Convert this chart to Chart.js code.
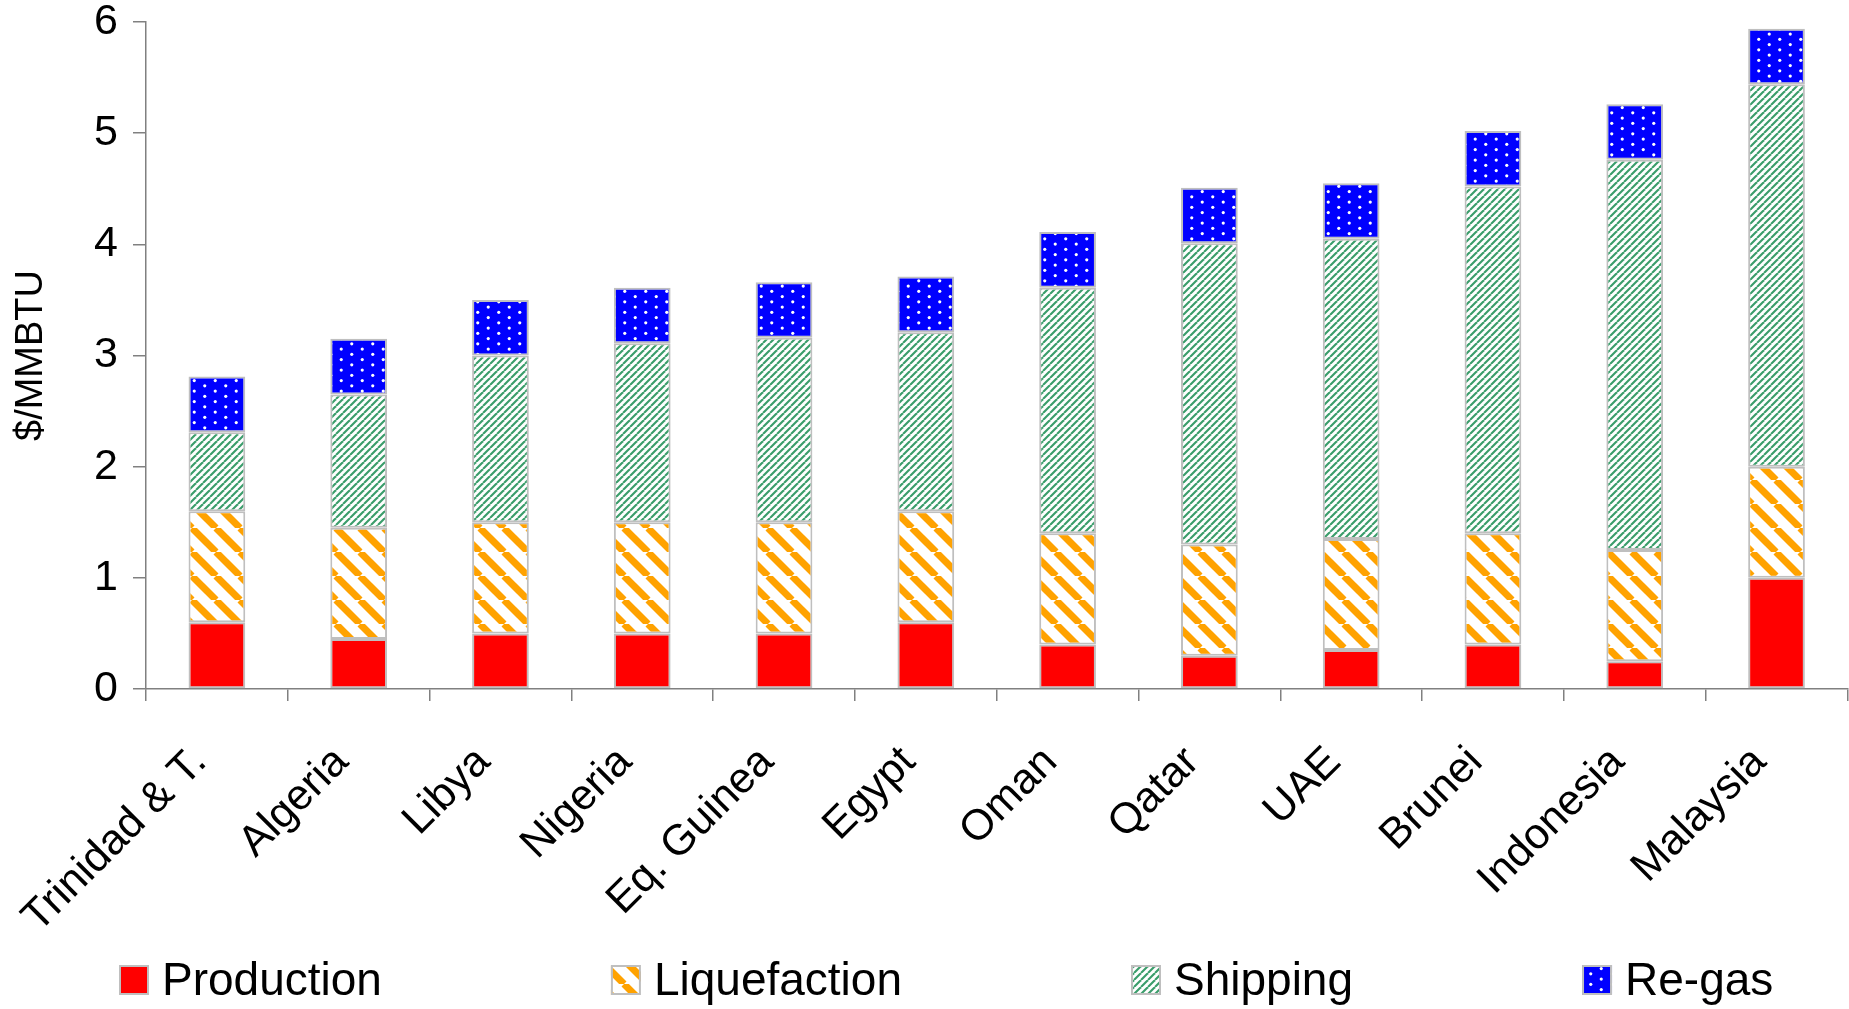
<!DOCTYPE html>
<html lang="en">
<head>
  <meta charset="UTF-8" />
  <title>LNG cost chain by country</title>
  <style>
    html, body { margin: 0; padding: 0; background: #fff; }
    #wrap { width: 1849px; height: 1009px; }
  </style>
</head>
<body>
<div id="wrap"><canvas id="lngChart" width="1849" height="1009"></canvas></div>

<script src="https://cdn.jsdelivr.net/npm/chart.js"></script>
<script>
  // Data ($/MMBTU)
  const countries = ['Trinidad & T.', 'Algeria', 'Libya', 'Nigeria', 'Eq. Guinea', 'Egypt',
                     'Oman', 'Qatar', 'UAE', 'Brunei', 'Indonesia', 'Malaysia'];
  const production   = [0.6, 0.45, 0.5, 0.5, 0.5, 0.6, 0.4, 0.3, 0.35, 0.4, 0.25, 1.0];
  const liquefaction = [1.0, 1.0, 1.0, 1.0, 1.0, 1.0, 1.0, 1.0, 1.0, 1.0, 1.0, 1.0];
  const shipping     = [0.71, 1.2, 1.5, 1.61, 1.66, 1.61, 2.21, 2.71, 2.7, 3.12, 3.51, 3.44];
  const regas        = [0.5, 0.5, 0.5, 0.5, 0.5, 0.5, 0.5, 0.5, 0.5, 0.5, 0.5, 0.5];
  const seriesNames  = ['Production', 'Liquefaction', 'Shipping', 'Re-gas'];
  const yMin = 0, yMax = 6, yStep = 1;
  const yTitle = '$/MMBTU';

  const FONT = '"Liberation Sans", Arial, sans-serif';
  const canvas = document.getElementById('lngChart');
  const ctx = canvas.getContext('2d');

  // Excel-style fill patterns
  function makePattern(w, h, draw) {
    const c = document.createElement('canvas');
    c.width = w; c.height = h;
    const g = c.getContext('2d');
    draw(g, w, h);
    return ctx.createPattern(c, 'repeat');
  }

  const redFill = '#FF0000';

  const orangeStripes = makePattern(24, 24, (g, w, h) => {
    g.fillStyle = '#fff';
    g.fillRect(0, 0, w, h);
    g.strokeStyle = '#FFA200';
    g.lineWidth = 7;
    for (const k of [-w, 0, w]) {
      g.beginPath();
      g.moveTo(k, 0);
      g.lineTo(k + w, h);
      g.stroke();
    }
  });

  const greenStripes = makePattern(7, 7, (g, w, h) => {
    g.fillStyle = '#fff';
    g.fillRect(0, 0, w, h);
    g.strokeStyle = '#3A9D6A';
    g.lineWidth = 2.1;
    for (const k of [-w, 0, w]) {
      g.beginPath();
      g.moveTo(k, h);
      g.lineTo(k + w, 0);
      g.stroke();
    }
  });

  const blueDots = makePattern(21, 21, (g, w, h) => {
    g.fillStyle = '#0000FF';
    g.fillRect(0, 0, w, h);
    g.fillStyle = '#fff';
    for (let i = 0; i < 4; i++) {
      const y = 2.6 + i * 5.25;
      const x = i % 2 === 0 ? 5.25 : 15.75;
      g.beginPath();
      g.arc(x, y, 1.6, 0, Math.PI * 2);
      g.fill();
    }
  });

  const fills = [redFill, orangeStripes, greenStripes, blueDots];
  const values = [production, liquefaction, shipping, regas];

  // legend drawn under the axis labels, Excel style
  const bottomLegend = {
    id: 'bottomLegend',
    afterDraw(chart) {
      const c = chart.ctx;
      const box = 30, gap = 13, itemGap = 229;
      const top = 965;
      let x = 119;
      c.save();
      c.font = '46px ' + FONT;
      c.textBaseline = 'middle';
      chart.data.datasets.forEach(ds => {
        c.fillStyle = ds.backgroundColor;
        c.fillRect(x, top, box, box);
        c.strokeStyle = '#BFBFBF';
        c.lineWidth = 2;
        c.strokeRect(x + 1, top + 1, box - 2, box - 2);
        c.fillStyle = '#000';
        c.fillText(ds.label, x + box + gap, top + box / 2 + 2);
        x += box + gap + c.measureText(ds.label).width + itemGap;
      });
      c.restore();
    }
  };

  new Chart(ctx, {
    type: 'bar',
    data: {
      labels: countries,
      datasets: seriesNames.map((name, i) => ({
        label: name,
        data: values[i],
        backgroundColor: fills[i],
        borderColor: '#BFBFBF',
        borderWidth: 2,
        borderSkipped: false,
        barPercentage: 0.4,
        categoryPercentage: 1.0
      }))
    },
    options: {
      responsive: false,
      animation: false,
      devicePixelRatio: 1,
      layout: { padding: { top: 22, left: 0, right: 0, bottom: 0 } },
      plugins: {
        legend: { display: false },
        tooltip: { enabled: false }
      },
      scales: {
        x: {
          stacked: true,
          afterFit: s => { s.height = 320; },
          grid: { display: true, drawOnChartArea: false, tickLength: 12, color: '#808080', lineWidth: 1.5 },
          border: { display: true, color: '#808080', width: 1.5 },
          ticks: {
            autoSkip: false,
            minRotation: 45,
            maxRotation: 45,
            labelOffset: -17,
            padding: 36,
            color: '#000',
            font: { family: FONT, size: 43 }
          }
        },
        y: {
          stacked: true,
          min: yMin,
          max: yMax,
          afterFit: s => {
            s.width = 146;
            s.paddingTop = 0;
            s.paddingBottom = 0;
          },
          grid: { display: true, drawOnChartArea: false, tickLength: 13, color: '#808080', lineWidth: 1.5 },
          border: { display: true, color: '#808080', width: 1.5 },
          ticks: {
            stepSize: yStep,
            padding: 15,
            color: '#000',
            font: { family: FONT, size: 43 }
          },
          title: {
            display: true,
            text: yTitle,
            color: '#000',
            padding: { top: 9, bottom: 0 },
            font: { family: FONT, size: 38 }
          }
        }
      }
    },
    plugins: [bottomLegend]
  });
</script>
</body>
</html>
